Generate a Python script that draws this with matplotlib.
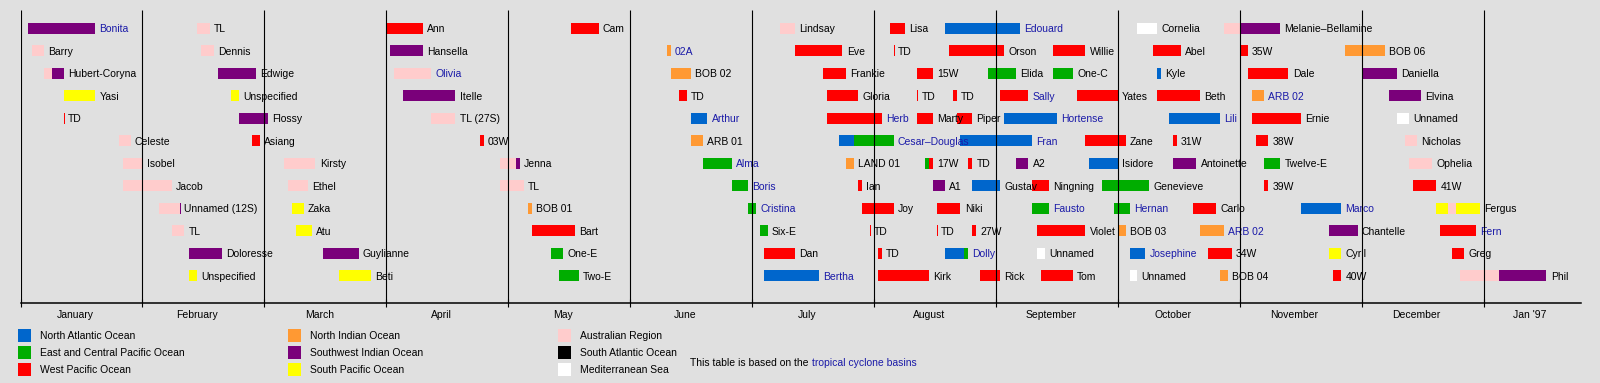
import matplotlib
matplotlib.use('Agg')
import matplotlib.pyplot as plt
from matplotlib.patches import Rectangle
import pandas as pd

plt.rcParams['font.family'] = ['Liberation Sans', 'DejaVu Sans']

# basins and their colours
basin_keys = ['NATL', 'EPAC', 'WPAC', 'NIO', 'SWIO', 'SPAC', 'AUS', 'SATL', 'MED']
basin_names = ['North Atlantic Ocean', 'East and Central Pacific Ocean', 'West Pacific Ocean',
               'North Indian Ocean', 'Southwest Indian Ocean', 'South Pacific Ocean',
               'Australian Region', 'South Atlantic Ocean', 'Mediterranean Sea']
basin_colors = ['#0066cc', '#00ad00', '#ff0000', '#ff9933', '#7a007a', '#ffff00',
                '#ffcccc', '#000000', '#ffffff']
colors = dict(zip(basin_keys, basin_colors))

month_labels = ['January', 'February', 'March', 'April', 'May', 'June', 'July',
                'August', 'September', 'October', 'November', 'December', "Jan '97"]

# storms: name, row, and list of (from, till, basin)
names = []
rows = []
tracks = []

def storm(row, name, *segs):
    names.append(name)
    rows.append(row)
    tracks.append(list(segs))

storm(0, 'Bonita', ('1996-01-03', '1996-01-20', 'SWIO'))
storm(0, 'TL', ('1996-02-14', '1996-02-17', 'AUS'))
storm(0, 'Ann', ('1996-04-01', '1996-04-10', 'WPAC'))
storm(0, 'Cam', ('1996-05-17', '1996-05-24', 'WPAC'))
storm(0, 'Lindsay', ('1996-07-08', '1996-07-12', 'AUS'))
storm(0, 'Lisa', ('1996-08-05', '1996-08-09', 'WPAC'))
storm(0, 'Edouard', ('1996-08-19', '1996-09-07', 'NATL'))
storm(0, 'Cornelia', ('1996-10-06', '1996-10-11', 'MED'))
storm(0, 'Melanie–Bellamine', ('1996-10-28', '1996-11-01', 'AUS'), ('1996-11-01', '1996-11-11', 'SWIO'))

storm(1, 'Barry', ('1996-01-04', '1996-01-07', 'AUS'))
storm(1, 'Dennis', ('1996-02-15', '1996-02-18', 'AUS'))
storm(1, 'Hansella', ('1996-04-02', '1996-04-10', 'SWIO'))
storm(1, '02A', ('1996-06-10', '1996-06-11', 'NIO'))
storm(1, 'Eve', ('1996-07-12', '1996-07-24', 'WPAC'))
storm(1, 'TD', ('1996-08-06', '1996-08-06', 'WPAC'))
storm(1, 'Orson', ('1996-08-20', '1996-09-03', 'WPAC'))
storm(1, 'Willie', ('1996-09-15', '1996-09-23', 'WPAC'))
storm(1, 'Abel', ('1996-10-10', '1996-10-17', 'WPAC'))
storm(1, '35W', ('1996-11-01', '1996-11-03', 'WPAC'))
storm(1, 'BOB 06', ('1996-11-27', '1996-12-07', 'NIO'))

storm(2, 'Hubert-Coryna', ('1996-01-07', '1996-01-09', 'AUS'), ('1996-01-09', '1996-01-12', 'SWIO'))
storm(2, 'Edwige', ('1996-02-19', '1996-02-28', 'SWIO'))
storm(2, 'Olivia', ('1996-04-03', '1996-04-12', 'AUS'))
storm(2, 'BOB 02', ('1996-06-11', '1996-06-16', 'NIO'))
storm(2, 'Frankie', ('1996-07-19', '1996-07-25', 'WPAC'))
storm(2, '15W', ('1996-08-12', '1996-08-16', 'WPAC'))
storm(2, 'Elida', ('1996-08-30', '1996-09-06', 'EPAC'))
storm(2, 'One-C', ('1996-09-15', '1996-09-20', 'EPAC'))
storm(2, 'Kyle', ('1996-10-11', '1996-10-12', 'NATL'))
storm(2, 'Dale', ('1996-11-03', '1996-11-13', 'WPAC'))
storm(2, 'Daniella', ('1996-12-01', '1996-12-10', 'SWIO'))

storm(3, 'Yasi', ('1996-01-12', '1996-01-20', 'SPAC'))
storm(3, 'Unspecified', ('1996-02-22', '1996-02-24', 'SPAC'))
storm(3, 'Itelle', ('1996-04-05', '1996-04-18', 'SWIO'))
storm(3, 'TD', ('1996-06-13', '1996-06-15', 'WPAC'))
storm(3, 'Gloria', ('1996-07-20', '1996-07-28', 'WPAC'))
storm(3, 'TD', ('1996-08-12', '1996-08-12', 'WPAC'))
storm(3, 'TD', ('1996-08-21', '1996-08-22', 'WPAC'))
storm(3, 'Sally', ('1996-09-02', '1996-09-09', 'WPAC'))
storm(3, 'Yates', ('1996-09-21', '1996-10-01', 'WPAC'))
storm(3, 'Beth', ('1996-10-11', '1996-10-22', 'WPAC'))
storm(3, 'ARB 02', ('1996-11-04', '1996-11-07', 'NIO'))
storm(3, 'Elvina', ('1996-12-08', '1996-12-16', 'SWIO'))

storm(4, 'TD', ('1996-01-12', '1996-01-12', 'WPAC'))
storm(4, 'Flossy', ('1996-02-24', '1996-03-02', 'SWIO'))
storm(4, 'TL (27S)', ('1996-04-12', '1996-04-18', 'AUS'))
storm(4, 'Arthur', ('1996-06-16', '1996-06-20', 'NATL'))
storm(4, 'Herb', ('1996-07-20', '1996-08-03', 'WPAC'))
storm(4, 'Marty', ('1996-08-12', '1996-08-16', 'WPAC'))
storm(4, 'Piper', ('1996-08-22', '1996-08-26', 'WPAC'))
storm(4, 'Hortense', ('1996-09-03', '1996-09-16', 'NATL'))
storm(4, 'Lili', ('1996-10-14', '1996-10-27', 'NATL'))
storm(4, 'Ernie', ('1996-11-04', '1996-11-16', 'WPAC'))
storm(4, 'Unnamed', ('1996-12-10', '1996-12-13', 'MED'))

storm(5, 'Celeste', ('1996-01-26', '1996-01-29', 'AUS'))
storm(5, 'Asiang', ('1996-02-27', '1996-02-29', 'WPAC'))
storm(5, '03W', ('1996-04-24', '1996-04-25', 'WPAC'))
storm(5, 'ARB 01', ('1996-06-16', '1996-06-19', 'NIO'))
storm(5, 'Cesar–Douglas', ('1996-07-23', '1996-07-27', 'NATL'), ('1996-07-27', '1996-08-06', 'EPAC'))
storm(5, 'Fran', ('1996-08-23', '1996-09-10', 'NATL'))
storm(5, 'Zane', ('1996-09-23', '1996-10-03', 'WPAC'))
storm(5, '31W', ('1996-10-15', '1996-10-16', 'WPAC'))
storm(5, '38W', ('1996-11-05', '1996-11-08', 'WPAC'))
storm(5, 'Nicholas', ('1996-12-12', '1996-12-15', 'AUS'))

storm(6, 'Isobel', ('1996-01-27', '1996-02-01', 'AUS'))
storm(6, 'Kirsty', ('1996-03-06', '1996-03-14', 'AUS'))
storm(6, 'Jenna', ('1996-04-29', '1996-05-03', 'AUS'), ('1996-05-03', '1996-05-04', 'SWIO'))
storm(6, 'Alma', ('1996-06-19', '1996-06-26', 'EPAC'))
storm(6, 'LAND 01', ('1996-07-25', '1996-07-27', 'NIO'))
storm(6, '17W', ('1996-08-14', '1996-08-15', 'EPAC'), ('1996-08-15', '1996-08-16', 'WPAC'))
storm(6, 'TD', ('1996-08-25', '1996-08-26', 'WPAC'))
storm(6, 'A2', ('1996-09-06', '1996-09-09', 'SWIO'))
storm(6, 'Isidore', ('1996-09-24', '1996-10-01', 'NATL'))
storm(6, 'Antoinette', ('1996-10-15', '1996-10-21', 'SWIO'))
storm(6, 'Twelve-E', ('1996-11-07', '1996-11-11', 'EPAC'))
storm(6, 'Ophelia', ('1996-12-13', '1996-12-19', 'AUS'))

storm(7, 'Jacob', ('1996-01-27', '1996-02-08', 'AUS'))
storm(7, 'Ethel', ('1996-03-07', '1996-03-12', 'AUS'))
storm(7, 'TL', ('1996-04-29', '1996-05-05', 'AUS'))
storm(7, 'Boris', ('1996-06-26', '1996-06-30', 'EPAC'))
storm(7, 'Ian', ('1996-07-28', '1996-07-29', 'WPAC'))
storm(7, 'A1', ('1996-08-16', '1996-08-19', 'SWIO'))
storm(7, 'Gustav', ('1996-08-26', '1996-09-02', 'NATL'))
storm(7, 'Ningning', ('1996-09-10', '1996-09-14', 'WPAC'))
storm(7, 'Genevieve', ('1996-09-27', '1996-10-09', 'EPAC'))
storm(7, '39W', ('1996-11-07', '1996-11-08', 'WPAC'))
storm(7, '41W', ('1996-12-14', '1996-12-20', 'WPAC'))

storm(8, 'Unnamed (12S)', ('1996-02-05', '1996-02-10', 'AUS'), ('1996-02-10', '1996-02-10', 'SWIO'))
storm(8, 'Zaka', ('1996-03-08', '1996-03-11', 'SPAC'))
storm(8, 'BOB 01', ('1996-05-06', '1996-05-07', 'NIO'))
storm(8, 'Cristina', ('1996-06-30', '1996-07-02', 'EPAC'))
storm(8, 'Joy', ('1996-07-29', '1996-08-06', 'WPAC'))
storm(8, 'Niki', ('1996-08-17', '1996-08-23', 'WPAC'))
storm(8, 'Fausto', ('1996-09-10', '1996-09-14', 'EPAC'))
storm(8, 'Hernan', ('1996-09-30', '1996-10-04', 'EPAC'))
storm(8, 'Carlo', ('1996-10-20', '1996-10-26', 'WPAC'))
storm(8, 'Marco', ('1996-11-16', '1996-11-26', 'NATL'))
storm(8, 'Fergus', ('1996-12-20', '1996-12-23', 'SPAC'), ('1996-12-23', '1996-12-25', 'AUS'),
      ('1996-12-25', '1996-12-31', 'SPAC'))

storm(9, 'TL', ('1996-02-08', '1996-02-11', 'AUS'))
storm(9, 'Atu', ('1996-03-09', '1996-03-13', 'SPAC'))
storm(9, 'Bart', ('1996-05-07', '1996-05-18', 'WPAC'))
storm(9, 'Six-E', ('1996-07-03', '1996-07-05', 'EPAC'))
storm(9, 'TD', ('1996-07-31', '1996-07-31', 'WPAC'))
storm(9, 'TD', ('1996-08-17', '1996-08-17', 'WPAC'))
storm(9, '27W', ('1996-08-26', '1996-08-27', 'WPAC'))
storm(9, 'Violet', ('1996-09-11', '1996-09-23', 'WPAC'))
storm(9, 'BOB 03', ('1996-10-01', '1996-10-03', 'NIO'))
storm(9, 'ARB 02', ('1996-10-22', '1996-10-28', 'NIO'))
storm(9, 'Chantelle', ('1996-11-23', '1996-11-30', 'SWIO'))
storm(9, 'Fern', ('1996-12-21', '1996-12-30', 'WPAC'))

storm(10, 'Doloresse', ('1996-02-12', '1996-02-20', 'SWIO'))
storm(10, 'Guylianne', ('1996-03-16', '1996-03-25', 'SWIO'))
storm(10, 'One-E', ('1996-05-12', '1996-05-15', 'EPAC'))
storm(10, 'Dan', ('1996-07-04', '1996-07-12', 'WPAC'))
storm(10, 'TD', ('1996-08-02', '1996-08-03', 'WPAC'))
storm(10, 'Dolly', ('1996-08-19', '1996-08-24', 'NATL'), ('1996-08-24', '1996-08-25', 'EPAC'))
storm(10, 'Unnamed', ('1996-09-11', '1996-09-13', 'MED'))
storm(10, 'Josephine', ('1996-10-04', '1996-10-08', 'NATL'))
storm(10, '34W', ('1996-10-24', '1996-10-30', 'WPAC'))
storm(10, 'Cyril', ('1996-11-23', '1996-11-26', 'SPAC'))
storm(10, 'Greg', ('1996-12-24', '1996-12-27', 'WPAC'))

storm(11, 'Unspecified', ('1996-02-12', '1996-02-14', 'SPAC'))
storm(11, 'Beti', ('1996-03-20', '1996-03-28', 'SPAC'))
storm(11, 'Two-E', ('1996-05-14', '1996-05-19', 'EPAC'))
storm(11, 'Bertha', ('1996-07-04', '1996-07-18', 'NATL'))
storm(11, 'Kirk', ('1996-08-02', '1996-08-15', 'WPAC'))
storm(11, 'Rick', ('1996-08-28', '1996-09-02', 'WPAC'))
storm(11, 'Tom', ('1996-09-12', '1996-09-20', 'WPAC'))
storm(11, 'Unnamed', ('1996-10-04', '1996-10-06', 'MED'))
storm(11, 'BOB 04', ('1996-10-27', '1996-10-29', 'NIO'))
storm(11, '40W', ('1996-11-24', '1996-11-26', 'WPAC'))
storm(11, 'Phil', ('1996-12-26', '1997-01-05', 'AUS'), ('1997-01-05', '1997-01-17', 'SWIO'))

linked = {'Bonita', 'Olivia', '02A', 'Arthur', 'Alma', 'Boris', 'Cristina', 'Bertha', 'Herb',
          'Cesar–Douglas', 'Dolly', 'Edouard', 'Sally', 'Hortense', 'Fran', 'Fausto', 'Hernan',
          'Josephine', 'Lili', 'ARB 02', 'Marco', 'Fern'}

LINK = '#1a1aa8'
FS = 7.5


def to_x(s):
    # month axis: every month gets the same width
    d = pd.Timestamp(s)
    return (d.year - 1996) * 12 + d.month - 1 + (d.day - 1) / d.days_in_month


fig = plt.figure(figsize=(16, 3.83), dpi=100, facecolor='#e0e0e0')
ax = fig.add_axes([20.5 / 1600, 1 - 302.7 / 383, 1560 / 1600, 292.7 / 383])
ax.set_facecolor('none')
ax.set_xlim(0, 12.795)
ax.set_ylim(12.196, -0.813)

for name, row, segs in zip(names, rows, tracks):
    end = 0
    for a, b, basin in segs:
        x0, x1 = to_x(a), to_x(b)
        ax.barh(row, max(x1 - x0, 0.008), left=x0, height=0.5, color=colors[basin],
                edgecolor='none', zorder=2)
        end = max(end, x1)
    ax.annotate(name, (end, row), xytext=(3, -2.8), textcoords='offset points',
                ha='left', va='baseline', fontsize=FS,
                color=LINK if name in linked else 'black', zorder=3)

ax.vlines(range(13), -0.813, 12.196, color='black', lw=0.8, zorder=4)

for s in ['top', 'left', 'right']:
    ax.spines[s].set_visible(False)
ax.spines['bottom'].set_linewidth(1.1)
ax.set_yticks([])
ax.set_xticks(range(13))
ax.tick_params(axis='x', which='major', direction='inout', length=6, width=0.8, labelbottom=False)
ax.set_xticks([i + 0.45 for i in range(12)] + [12.38], minor=True)
ax.set_xticklabels(month_labels, minor=True, fontsize=FS)
ax.tick_params(axis='x', which='minor', length=0, pad=5)

# legend
col_x = [18, 288, 558]
row_y = [335, 352, 369]
for i, (key, label) in enumerate(zip(basin_keys, basin_names)):
    cx = col_x[i // 3]
    cy = row_y[i % 3]
    fig.add_artist(Rectangle((cx / 1600, 1 - (cy + 6.5) / 383), 13 / 1600, 13 / 383,
                             transform=fig.transFigure, color=colors[key], lw=0))
    fig.text((cx + 22) / 1600, 1 - cy / 383, label, fontsize=FS, va='center_baseline')

t1 = fig.text(690 / 1600, 1 - 362 / 383, 'This table is based on the', fontsize=FS,
              va='center_baseline')
fig.add_artist(plt.Annotation('tropical cyclone basins', xy=(1, 0), xycoords=t1,
                              xytext=(2.5, 0), textcoords='offset points',
                              fontsize=FS, color=LINK, va='bottom'))

fig.savefig('out.png', dpi=100, facecolor=fig.get_facecolor())
